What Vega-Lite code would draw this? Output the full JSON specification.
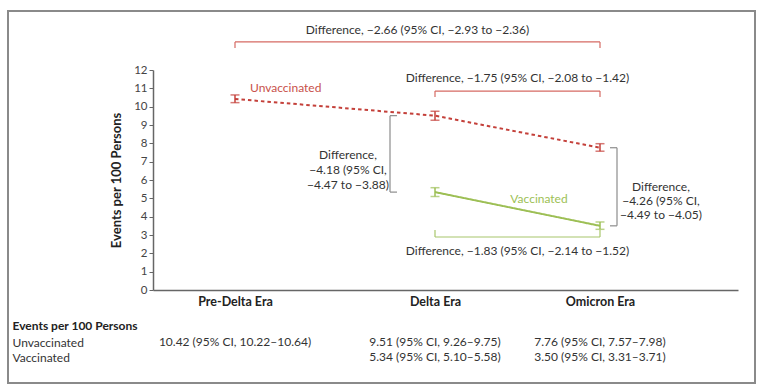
{
  "$schema": "https://vega.github.io/schema/vega-lite/v6.json",
  "width": 585,
  "height": 220,
  "autosize": "none",
  "padding": {"left": 153, "top": 70, "right": 27, "bottom": 101},
  "background": "white",
  "config": {
    "font": "Lato",
    "view": {"stroke": null},
    "axis": {"labelFont": "Lato", "titleFont": "Lato"},
    "text": {"font": "Lato"}
  },
  "datasets": {
    "rates": [
      {"era": "Pre-Delta Era", "t": 1, "group": "Unvaccinated", "rate": 10.42, "lo": 10.22, "hi": 10.64, "label": "10.42 (95% CI, 10.22–10.64)"},
      {"era": "Delta Era", "t": 2, "group": "Unvaccinated", "rate": 9.51, "lo": 9.26, "hi": 9.75, "label": "9.51 (95% CI, 9.26–9.75)"},
      {"era": "Omicron Era", "t": 2.825, "group": "Unvaccinated", "rate": 7.76, "lo": 7.57, "hi": 7.98, "label": "7.76 (95% CI, 7.57–7.98)"},
      {"era": "Delta Era", "t": 2, "group": "Vaccinated", "rate": 5.34, "lo": 5.10, "hi": 5.58, "label": "5.34 (95% CI, 5.10–5.58)"},
      {"era": "Omicron Era", "t": 2.825, "group": "Vaccinated", "rate": 3.50, "lo": 3.31, "hi": 3.71, "label": "3.50 (95% CI, 3.31–3.71)"}
    ],
    "one": [{}]
  },
  "layer": [
    {
      "layer": [
        {
          "data": {"name": "rates"},
          "mark": {"type": "line", "strokeWidth": 2},
          "encoding": {
            "x": {
              "field": "t", "type": "quantitative", "title": null,
              "scale": {"domain": [0.59, 3.515], "nice": false, "zero": false},
              "axis": {
                "title": null, "values": [1, 2, 2.825], "tickCount": 10, "grid": false, "ticks": false,
                "labelExpr": "datum.value == 1 ? 'Pre-Delta Era' : datum.value == 2 ? 'Delta Era' : 'Omicron Era'",
                "labelFontWeight": "bold", "labelFontSize": 12.5, "labelColor": "#222", "labelPadding": 5,
                "labelFlush": false, "labelOverlap": false,
                "domainColor": "#666", "domainWidth": 1.5
              }
            },
            "y": {
              "field": "rate", "type": "quantitative", "title": "Events per 100 Persons",
              "scale": {"domain": [0, 12], "nice": false},
              "axis": {
                "title": "Events per 100 Persons", "values": [0,1,2,3,4,5,6,7,8,9,10,11,12], "tickCount": 20, "format": "d",
                "labelOverlap": false,
                "grid": false, "tickSize": 4, "tickColor": "#666", "domainColor": "#666", "domainWidth": 1.5,
                "labelFontSize": 11.5, "labelColor": "#444", "labelPadding": 2,
                "titleFontSize": 13, "titleFontWeight": "bold", "titleColor": "#222", "titlePadding": 10
              }
            },
            "color": {
              "field": "group", "type": "nominal",
              "scale": {"domain": ["Unvaccinated", "Vaccinated"], "range": ["#c4403a", "#9dbf55"]},
              "legend": null
            },
            "strokeDash": {
              "field": "group", "type": "nominal",
              "scale": {"domain": ["Unvaccinated", "Vaccinated"], "range": [[3.5, 3], [1, 0]]},
              "legend": null
            }
          }
        },
        {
          "data": {"name": "rates"},
          "mark": {"type": "errorbar", "ticks": {"size": 9}, "thickness": 1.5},
          "encoding": {
            "x": {"field": "t", "type": "quantitative", "title": null},
            "y": {"field": "lo", "type": "quantitative", "title": "Events per 100 Persons"},
            "y2": {"field": "hi"},
            "color": {"field": "group", "type": "nominal", "legend": null}
          }
        },
        {
          "data": {"name": "one"},
          "layer": [
            {"mark": {"type": "rect", "fillOpacity": 0, "stroke": "#8a8a8a", "strokeWidth": 2},
             "encoding": {"x": {"datum": -0.135}, "x2": {"datum": 3.6}, "y": {"datum": 15.22}, "y2": {"datum": -5.07}}},

            {"mark": {"type": "rule", "color": "#d66a63", "strokeWidth": 1.2},
             "encoding": {"x": {"datum": 1}, "x2": {"datum": 2.825}, "y": {"datum": 13.53}}},
            {"mark": {"type": "rule", "color": "#d66a63", "strokeWidth": 1.2},
             "encoding": {"x": {"datum": 1}, "y": {"datum": 13.53}, "y2": {"datum": 13.2}}},
            {"mark": {"type": "rule", "color": "#d66a63", "strokeWidth": 1.2},
             "encoding": {"x": {"datum": 2.825}, "y": {"datum": 13.53}, "y2": {"datum": 13.2}}},

            {"mark": {"type": "rule", "color": "#d66a63", "strokeWidth": 1.2},
             "encoding": {"x": {"datum": 2}, "x2": {"datum": 2.825}, "y": {"datum": 10.85}}},
            {"mark": {"type": "rule", "color": "#d66a63", "strokeWidth": 1.2},
             "encoding": {"x": {"datum": 2}, "y": {"datum": 10.85}, "y2": {"datum": 10.53}}},
            {"mark": {"type": "rule", "color": "#d66a63", "strokeWidth": 1.2},
             "encoding": {"x": {"datum": 2.825}, "y": {"datum": 10.85}, "y2": {"datum": 10.53}}},

            {"mark": {"type": "rule", "color": "#8c8c8c", "strokeWidth": 1.2},
             "encoding": {"x": {"datum": 1.775}, "y": {"datum": 9.51}, "y2": {"datum": 5.34}}},
            {"mark": {"type": "rule", "color": "#8c8c8c", "strokeWidth": 1.2},
             "encoding": {"x": {"datum": 1.775}, "x2": {"datum": 1.81}, "y": {"datum": 9.51}}},
            {"mark": {"type": "rule", "color": "#8c8c8c", "strokeWidth": 1.2},
             "encoding": {"x": {"datum": 1.775}, "x2": {"datum": 1.81}, "y": {"datum": 5.34}}},

            {"mark": {"type": "rule", "color": "#8c8c8c", "strokeWidth": 1.2},
             "encoding": {"x": {"datum": 2.91}, "y": {"datum": 7.76}, "y2": {"datum": 3.5}}},
            {"mark": {"type": "rule", "color": "#8c8c8c", "strokeWidth": 1.2},
             "encoding": {"x": {"datum": 2.875}, "x2": {"datum": 2.91}, "y": {"datum": 7.76}}},
            {"mark": {"type": "rule", "color": "#8c8c8c", "strokeWidth": 1.2},
             "encoding": {"x": {"datum": 2.875}, "x2": {"datum": 2.91}, "y": {"datum": 3.5}}},

            {"mark": {"type": "rule", "color": "#a8c66c", "strokeWidth": 1.2},
             "encoding": {"x": {"datum": 2}, "x2": {"datum": 2.825}, "y": {"datum": 2.89}}},
            {"mark": {"type": "rule", "color": "#a8c66c", "strokeWidth": 1.2},
             "encoding": {"x": {"datum": 2}, "y": {"datum": 2.89}, "y2": {"datum": 3.27}}},
            {"mark": {"type": "rule", "color": "#a8c66c", "strokeWidth": 1.2},
             "encoding": {"x": {"datum": 2.825}, "y": {"datum": 2.89}, "y2": {"datum": 3.27}}},

            {"mark": {"type": "text", "text": "Difference, −2.66 (95% CI, −2.93 to −2.36)", "fontSize": 12, "color": "#333", "align": "center", "baseline": "middle"},
             "encoding": {"x": {"datum": 1.9125}, "y": {"datum": 14.18}}},
            {"mark": {"type": "text", "text": "Difference, −1.75 (95% CI, −2.08 to −1.42)", "fontSize": 12, "color": "#333", "align": "center", "baseline": "middle"},
             "encoding": {"x": {"datum": 2.4125}, "y": {"datum": 11.56}}},
            {"mark": {"type": "text", "text": ["Difference,", "−4.18 (95% CI,", "−4.47 to −3.88)"], "lineHeight": 15, "fontSize": 12, "color": "#333", "align": "center", "baseline": "middle"},
             "encoding": {"x": {"datum": 1.565}, "y": {"datum": 7.36}}},
            {"mark": {"type": "text", "text": ["Difference,", "−4.26 (95% CI,", "−4.49 to −4.05)"], "lineHeight": 14, "fontSize": 12, "color": "#333", "align": "center", "baseline": "middle"},
             "encoding": {"x": {"datum": 3.13}, "y": {"datum": 5.62}}},
            {"mark": {"type": "text", "text": "Difference, −1.83 (95% CI, −2.14 to −1.52)", "fontSize": 12, "color": "#333", "align": "center", "baseline": "middle"},
             "encoding": {"x": {"datum": 2.4125}, "y": {"datum": 2.13}}},
            {"mark": {"type": "text", "text": "Unvaccinated", "fontSize": 12, "color": "#c8504a", "align": "left", "baseline": "middle"},
             "encoding": {"x": {"datum": 1.075}, "y": {"datum": 11.02}}},
            {"mark": {"type": "text", "text": "Vaccinated", "fontSize": 12, "color": "#9dbf55", "align": "center", "baseline": "middle"},
             "encoding": {"x": {"datum": 2.52}, "y": {"datum": 4.96}}}
          ]
        }
      ]
    },
    {
      "data": {"name": "rates"},
      "mark": {"type": "text", "align": "center", "baseline": "middle", "fontSize": 12, "color": "#333"},
      "encoding": {
        "x": {"field": "t", "type": "quantitative", "title": null},
        "y": {
          "field": "group", "type": "nominal",
          "scale": {"type": "point", "domain": ["Unvaccinated", "Vaccinated"], "range": [272, 287], "padding": 0},
          "axis": {
            "orient": "left", "title": "Events per 100 Persons", "domain": false, "ticks": false, "tickSize": 0, "grid": false,
            "labelAlign": "left", "labelBaseline": "middle", "labelPadding": 141, "labelFontSize": 12, "labelColor": "#333",
            "titleAngle": 0, "titleAlign": "left", "titleBaseline": "middle", "titleX": -141, "titleY": 255,
            "titleFontWeight": "bold", "titleFontSize": 12, "titleColor": "#222"
          }
        },
        "text": {"field": "label"}
      }
    }
  ],
  "resolve": {"scale": {"y": "independent"}, "axis": {"y": "independent"}}
}
